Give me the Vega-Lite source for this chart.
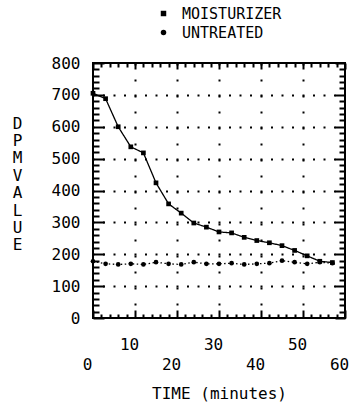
{
  "$schema": "https://vega.github.io/schema/vega-lite/v6.json",
  "width": 252,
  "height": 255,
  "autosize": {"type": "none"},
  "padding": {"left": 93, "top": 63, "right": 4, "bottom": 84},
  "background": "white",
  "config": {
    "view": {"stroke": "black", "strokeWidth": 2},
    "font": "DejaVu Sans Mono",
    "axis": {
      "labelFont": "DejaVu Sans Mono", "labelFontSize": 16, "labelColor": "black",
      "titleFont": "DejaVu Sans Mono", "titleFontSize": 16, "titleColor": "black", "titleFontWeight": "normal",
      "domain": false, "ticks": true, "tickColor": "black", "tickWidth": 2, "tickOpacity": 1, "gridColor": "black", "gridWidth": 2,
      "labelOverlap": false, "labelFlush": false, "labelBound": false, "grid": false
    },
    "legend": {
      "labelFont": "DejaVu Sans Mono", "labelFontSize": 15, "labelColor": "black"
    }
  },
  "data": {"values": [
    {"series": "MOISTURIZER", "time": 0, "value": 705},
    {"series": "MOISTURIZER", "time": 3, "value": 688},
    {"series": "MOISTURIZER", "time": 6, "value": 600},
    {"series": "MOISTURIZER", "time": 9, "value": 537},
    {"series": "MOISTURIZER", "time": 12, "value": 518},
    {"series": "MOISTURIZER", "time": 15, "value": 424},
    {"series": "MOISTURIZER", "time": 18, "value": 358},
    {"series": "MOISTURIZER", "time": 21, "value": 329},
    {"series": "MOISTURIZER", "time": 24, "value": 298},
    {"series": "MOISTURIZER", "time": 27, "value": 285},
    {"series": "MOISTURIZER", "time": 30, "value": 270},
    {"series": "MOISTURIZER", "time": 33, "value": 267},
    {"series": "MOISTURIZER", "time": 36, "value": 253},
    {"series": "MOISTURIZER", "time": 39, "value": 243},
    {"series": "MOISTURIZER", "time": 42, "value": 236},
    {"series": "MOISTURIZER", "time": 45, "value": 227},
    {"series": "MOISTURIZER", "time": 48, "value": 212},
    {"series": "MOISTURIZER", "time": 51, "value": 195},
    {"series": "MOISTURIZER", "time": 54, "value": 178},
    {"series": "MOISTURIZER", "time": 57, "value": 174},
    {"series": "UNTREATED", "time": 0, "value": 178},
    {"series": "UNTREATED", "time": 3, "value": 170},
    {"series": "UNTREATED", "time": 6, "value": 168},
    {"series": "UNTREATED", "time": 9, "value": 170},
    {"series": "UNTREATED", "time": 12, "value": 168},
    {"series": "UNTREATED", "time": 15, "value": 175},
    {"series": "UNTREATED", "time": 18, "value": 170},
    {"series": "UNTREATED", "time": 21, "value": 168},
    {"series": "UNTREATED", "time": 24, "value": 175},
    {"series": "UNTREATED", "time": 27, "value": 170},
    {"series": "UNTREATED", "time": 30, "value": 170},
    {"series": "UNTREATED", "time": 33, "value": 172},
    {"series": "UNTREATED", "time": 36, "value": 168},
    {"series": "UNTREATED", "time": 39, "value": 170},
    {"series": "UNTREATED", "time": 42, "value": 172},
    {"series": "UNTREATED", "time": 45, "value": 180},
    {"series": "UNTREATED", "time": 48, "value": 175},
    {"series": "UNTREATED", "time": 51, "value": 170},
    {"series": "UNTREATED", "time": 54, "value": 175},
    {"series": "UNTREATED", "time": 57, "value": 172}
  ]},
  "layer": [
    {
      "mark": {"type": "point", "opacity": 0},
      "encoding": {
        "x": {
          "field": "time", "type": "quantitative",
          "scale": {"domain": [0, 60], "nice": false, "zero": false},
          "axis": {
            "orient": "bottom", "values": [10, 20, 30, 40, 50],
            "grid": true, "gridDash": [2, 14], "ticks": false, "labels": false, "title": null
          }
        },
        "y": {
          "field": "value", "type": "quantitative",
          "scale": {"domain": [0, 800], "nice": false},
          "axis": {
            "orient": "left", "values": [100, 200, 300, 400, 500, 600, 700],
            "grid": true, "gridDash": [2, 8.5], "gridDashOffset": 1, "ticks": false, "labels": false, "title": null
          }
        }
      }
    },
    {
      "mark": {"type": "line", "point": {"filled": true, "size": 22, "color": "black"}, "color": "black", "strokeWidth": 1.3},
      "encoding": {
        "x": {
          "field": "time", "type": "quantitative",
          "axis": {
            "orient": "bottom",
            "values": [0, 10, 20, 30, 40, 50, 60],
            "offset": -8, "tickSize": 8, "ticks": true,
            "labelPadding": {"condition": {"test": "datum.value % 20 === 10", "value": 18}, "value": 38},
            "labelOffset": -6,
            "labelBaseline": "top",
            "title": "TIME (minutes)", "titleX": 126, "titleY": 88, "titleBaseline": "alphabetic", "titleAlign": "center"
          }
        },
        "y": {
          "field": "value", "type": "quantitative",
          "axis": {
            "orient": "left",
            "values": [0, 100, 200, 300, 400, 500, 600, 700, 800],
            "offset": -11, "tickSize": 11, "ticks": true,
            "labelPadding": 13,
            "title": ["D", "P", "M", "\u00a0", "V", "A", "L", "U", "E"],
            "titleAngle": 0, "titleLineHeight": 17.4, "titleX": -87, "titleY": 52,
            "titleAlign": "center", "titleBaseline": "top"
          }
        },
        "shape": {
          "field": "series", "type": "nominal",
          "scale": {"domain": ["MOISTURIZER", "UNTREATED"], "range": ["square", "circle"]},
          "legend": {
            "orient": "none", "legendX": 63, "legendY": -57, "title": null,
            "symbolFillColor": "black", "symbolStrokeColor": "black", "symbolSize": 30,
            "padding": 0, "rowPadding": 3, "labelOffset": 11
          }
        },
        "strokeDash": {
          "field": "series", "type": "nominal",
          "scale": {"domain": ["MOISTURIZER", "UNTREATED"], "range": [[1, 0], [1.5, 2.5]]},
          "legend": {
            "orient": "none", "legendX": 63, "legendY": -57, "title": null,
            "symbolFillColor": "black", "symbolStrokeColor": "black", "symbolSize": 30,
            "padding": 0, "rowPadding": 3, "labelOffset": 11
          }
        }
      }
    },
    {
      "mark": {"type": "point", "opacity": 0},
      "encoding": {
        "x": {
          "field": "time", "type": "quantitative",
          "axis": {"orient": "top", "values": [0, 10, 20, 30, 40, 50, 60], "offset": -6, "tickSize": 6, "ticks": true, "labels": false, "title": null}
        },
        "y": {
          "field": "value", "type": "quantitative",
          "axis": {"orient": "right", "values": [0, 100, 200, 300, 400, 500, 600, 700, 800], "offset": -10, "tickSize": 10, "ticks": true, "labels": false, "title": null}
        }
      }
    },
    {
      "mark": {"type": "point", "opacity": 0},
      "encoding": {
        "x": {
          "field": "time", "type": "quantitative",
          "axis": {"orient": "bottom", "values": [2,4,6,8,12,14,16,18,22,24,26,28,32,34,36,38,42,44,46,48,52,54,56,58], "offset": -4, "tickSize": 4, "ticks": true, "labels": false, "title": null}
        },
        "y": {
          "field": "value", "type": "quantitative",
          "axis": {"orient": "left", "values": [20,40,60,80,120,140,160,180,220,240,260,280,320,340,360,380,420,440,460,480,520,540,560,580,620,640,660,680,720,740,760,780], "offset": -6, "tickSize": 6, "ticks": true, "labels": false, "title": null}
        }
      }
    },
    {
      "mark": {"type": "point", "opacity": 0},
      "encoding": {
        "x": {
          "field": "time", "type": "quantitative",
          "axis": {"orient": "top", "values": [2,4,6,8,12,14,16,18,22,24,26,28,32,34,36,38,42,44,46,48,52,54,56,58], "offset": -4, "tickSize": 4, "ticks": true, "labels": false, "title": null}
        },
        "y": {
          "field": "value", "type": "quantitative",
          "axis": {"orient": "right", "values": [20,40,60,80,120,140,160,180,220,240,260,280,320,340,360,380,420,440,460,480,520,540,560,580,620,640,660,680,720,740,760,780], "offset": -6, "tickSize": 6, "ticks": true, "labels": false, "title": null}
        }
      }
    }
  ],
  "resolve": {"axis": {"x": "independent", "y": "independent"}}
}
